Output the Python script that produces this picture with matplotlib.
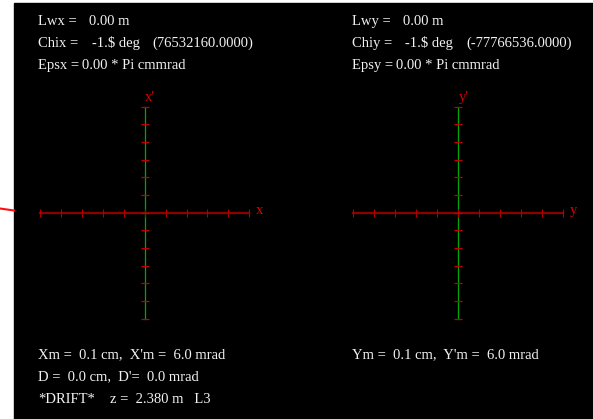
import matplotlib
matplotlib.use('Agg')
import matplotlib.pyplot as plt
from matplotlib.patches import Rectangle
from matplotlib.lines import Line2D

W, H = 593, 419

# beam parameters shown in the text panel
lw_x, lw_y = 0.00, 0.00
chi_x, chi_y = '-1.$', '-1.$'
chi_raw_x, chi_raw_y = 76532160.0, -77766536.0
eps_x, eps_y = 0.00, 0.00
x_max, xp_max = 0.1, 6.0
y_max, yp_max = 0.1, 6.0
disp, disp_p = 0.0, 0.0
element, z_pos, lattice = '*DRIFT*', 2.380, 'L3'

# tick positions on the phase-space crosses
x_ticks = [-5, -4, -3, -2, -1, 0, 1, 2, 3, 4, 5]
xp_ticks = [-6, -5, -4, -3, -2, -1, 0, 1, 2, 3, 4, 5, 6]

TXT = '#f2f2f2'
RED = '#e00000'
DARKRED = '#8b0000'
GREEN = '#00a800'
FONT = 'Liberation Serif'
FS = 10.5

fig = plt.figure(figsize=(W / 100, H / 100), dpi=100)
fig.patch.set_facecolor('white')
fig.add_artist(Rectangle((14 / W, 0), 1 - 14 / W, 1 - 3 / H,
                         transform=fig.transFigure, color='black', zorder=0))
# stray red stroke on the left margin
fig.add_artist(Line2D([0, 14 / W], [1 - 208.5 / H, 1 - 210.5 / H],
                      color='#ff1010', lw=1.5))


def put(x, y, s, color=TXT, size=FS):
    fig.text(x / W, 1 - y / H, s, color=color, fontsize=size,
             family=FONT, va='baseline', ha='left')


def cross(left, right, top, bottom, hlab, vlab):
    ax = fig.add_axes([left / W, 1 - bottom / H, (right - left) / W, (bottom - top) / H])
    ax.set_xlim(x_ticks[0], x_ticks[-1])
    ax.set_ylim(xp_ticks[0], xp_ticks[-1])
    ax.axis('off')
    zx = [0] * len(x_ticks)
    zy = [0] * len(xp_ticks)
    ax.plot([x_ticks[0], x_ticks[-1]], [0, 0], color=DARKRED, lw=1.6, clip_on=False)
    ax.plot([0, 0], [xp_ticks[0], xp_ticks[-1]], color=GREEN, lw=0.9, clip_on=False)
    ax.plot(x_ticks, zx, ls='', marker='|', ms=5.5, mew=0.8, color='#b00000', clip_on=False)
    ax.plot(zy, xp_ticks, ls='', marker='_', ms=5.5, mew=0.9, color='#c00000', clip_on=False)
    ax.text(0.02, xp_ticks[-1] + 0.35, vlab, color=RED, fontsize=FS, family=FONT,
            ha='left', va='baseline', clip_on=False)
    ax.text(x_ticks[-1] + 0.3, -0.05, hlab, color=RED, fontsize=FS, family=FONT,
            ha='left', va='baseline', clip_on=False)
    return ax


cross(40, 249.3, 106.7, 318.7, 'x', "x'")
cross(353.3, 563.3, 106.7, 318.7, 'y', "y'")

# header, horizontal plane
put(38, 25, 'Lwx =')
put(89, 25, f'{lw_x:.2f} m')
put(38, 47, 'Chix =')
put(92, 47, f'{chi_x} deg')
put(152, 47, f'({chi_raw_x:.4f})')
put(38, 69, 'Epsx =')
put(82, 69, f'{eps_x:.2f} * Pi cmmrad')

# header, vertical plane
put(352, 25, 'Lwy =')
put(403, 25, f'{lw_y:.2f} m')
put(352, 47, 'Chiy =')
put(405, 47, f'{chi_y} deg')
put(466, 47, f'({chi_raw_y:.4f})')
put(352, 69, 'Epsy =')
put(396, 69, f'{eps_y:.2f} * Pi cmmrad')

# footer
put(38, 358.5, f"Xm =  {x_max:.1f} cm,  X'm =  {xp_max:.1f} mrad")
put(352, 358.5, f"Ym =  {y_max:.1f} cm,  Y'm =  {yp_max:.1f} mrad")
put(38, 380.5, f"D =  {disp:.1f} cm,  D'=  {disp_p:.1f} mrad")
put(38, 402.5, element)
put(110, 402.5, f'z =  {z_pos:.3f} m   {lattice}')

fig.savefig('out.png', dpi=100, facecolor=fig.get_facecolor())
